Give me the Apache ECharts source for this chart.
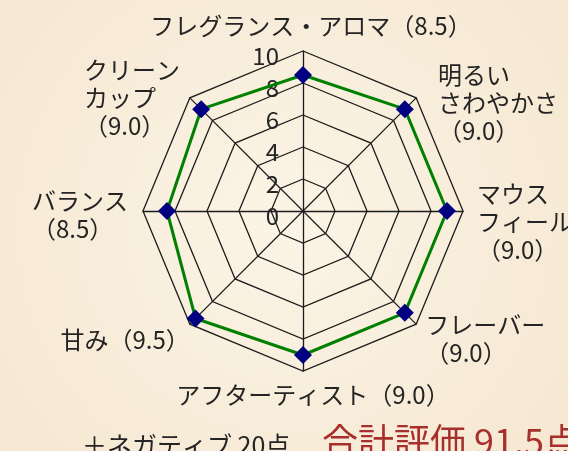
<!DOCTYPE html>
<html>
<head>
<meta charset="utf-8">
<script src="https://cdn.jsdelivr.net/npm/echarts@6/dist/echarts.min.js"></script>
<style>
  html, body { margin: 0; padding: 0; background: #f8efdc; }
  #chart { width: 568px; height: 451px; }
</style>
</head>
<body>
<div id="chart"></div>
<script>
// ---- data (indicators listed counter-clockwise from the top, as ECharts places them) ----
const categories = ['フレグランス・アロマ', 'クリーン\nカップ', 'バランス', '甘み', 'アフターティスト', 'フレーバー', 'マウス\nフィール', '明るい\nさわやかさ'];
const scores = [8.5, 9.0, 8.5, 9.5, 9.0, 9.0, 9.0, 9.0];
const scoreOnNewLine = [false, true, true, false, false, true, true, true];
const scaleMin = 0;
const scaleMax = 10;
const scaleSplits = 5;          // ticks 0,2,4,6,8,10
const negativePoints = 20;
const negativeText = '＋ネガティブ';
const totalText = '合計評価';

// ---- layout / style (kept apart from the data) ----
const nameLayout = [
  { gap: 11, pad: [0, 0, 0, 16] },    // top
  { gap: 14, pad: [19, 0, 0, 0] },    // upper-left
  { gap: 15, pad: [8, 0, 0, 0] },     // left
  { gap: 0,  pad: [32, 0, 0, 0] },    // lower-left
  { gap: 10, pad: [0, 0, 0, 20] },    // bottom
  { gap: 13, pad: [12, 0, 0, 0] },    // lower-right
  { gap: 14, pad: [22, 0, 0, 0] },    // right
  { gap: 14, pad: [30, 0, 0, 12] }    // upper-right
];
const FONT = '"Noto Sans CJK JP", "Noto Sans", sans-serif';
const TEXT_COLOR = '#242424';
const gridColor = '#1c1c1c';

function buildName(i) {
  const score = '（' + scores[i].toFixed(1) + '）';
  const lines = categories[i].split('\n');
  if (scoreOnNewLine[i]) lines.push(score); else lines[lines.length - 1] += score;
  return lines.map(l => '{n|' + l + '}').join('\n');
}

const indicators = categories.map((c, i) => {
  const ind = {
    name: buildName(i),
    min: scaleMin,
    max: scaleMax,
    nameGap: nameLayout[i].gap,
    nameTextStyle: { padding: nameLayout[i].pad }
  };
  if (i === 0) {
    ind.axisLabel = {
      show: true,
      margin: 24,
      formatter: v => '{t|' + v + '}',
      rich: {
        t: { fontSize: 24, fontFamily: FONT, color: TEXT_COLOR, padding: [10, 0, 0, 0] }
      }
    };
  }
  return ind;
});

const total = scores.reduce((a, b) => a + b, 0) + negativePoints;

const chart = echarts.init(document.getElementById('chart'), null, { renderer: 'canvas' });
chart.setOption({
  animation: false,
  backgroundColor: {
    type: 'radial', x: 0.5, y: 0.5, r: 0.75,
    colorStops: [
      { offset: 0, color: '#fbf4e6' },
      { offset: 1, color: '#f6e8d2' }
    ]
  },
  radar: {
    center: [303, 211],
    radius: 160,
    startAngle: 90,
    shape: 'polygon',
    splitNumber: scaleSplits,
    indicator: indicators,
    axisName: {
      color: TEXT_COLOR,
      fontFamily: FONT,
      fontSize: 24,
      rich: {
        n: { fontSize: 24, lineHeight: 28, align: 'left', color: TEXT_COLOR, fontFamily: FONT }
      }
    },
    axisLine: { show: true, lineStyle: { color: gridColor, width: 1.3 } },
    splitLine: { show: true, lineStyle: { color: gridColor, width: 1.3 } },
    splitArea: { show: false },
    axisTick: { show: false },
    axisLabel: { show: false }
  },
  series: [{
    type: 'radar',
    symbol: 'diamond',
    symbolSize: 18,
    itemStyle: { color: '#000080' },
    lineStyle: { color: '#008000', width: 3 },
    data: [{ value: scores }]
  }],
  graphic: [
    {
      type: 'text', left: 82, top: 433,
      style: { text: negativeText + ' ' + negativePoints + '点', font: '25px ' + FONT, fill: TEXT_COLOR }
    },
    {
      type: 'text', left: 322, top: 423,
      style: { text: totalText + ' ' + total.toFixed(1) + '点', font: '36px ' + FONT, fill: '#a8302c' }
    }
  ]
});
</script>
</body>
</html>
